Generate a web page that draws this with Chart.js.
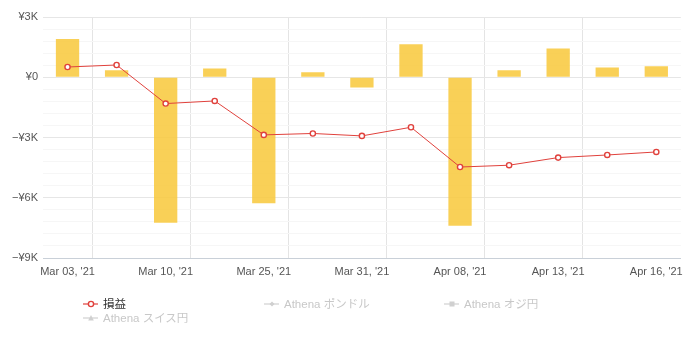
<!DOCTYPE html>
<html><head><meta charset="utf-8">
<script src="https://cdn.jsdelivr.net/npm/chart.js@4/dist/chart.umd.min.js"></script>
<style>
html,body{margin:0;padding:0;background:#fff;}
#wrap{position:relative;width:690px;height:338px;}
#c{position:absolute;left:0;top:0;}
.lg{position:absolute;font:11.5px 'Liberation Sans',Arial,'Noto Sans CJK JP',sans-serif;white-space:nowrap;line-height:14px;}
.lg svg{position:absolute;left:0;top:1px;}
.lg span{position:absolute;left:20px;top:0;}
</style></head>
<body>
<div id="wrap">
<canvas id="c" width="690" height="338"></canvas>
<div class="lg" style="left:83px;top:297px;color:#333"><svg width="16" height="12"><line x1="0" y1="6" x2="15" y2="6" stroke="#e0413c" stroke-width="1.2"/><circle cx="8" cy="6" r="2.6" fill="#fff" stroke="#e0413c" stroke-width="1.4"/></svg><span>損益</span></div>
<div class="lg" style="left:264px;top:297px;color:#c8c8c8"><svg width="16" height="12"><line x1="0" y1="6" x2="15" y2="6" stroke="#d0d0d0" stroke-width="1.2"/><path d="M8 3.5 L10.5 6 L8 8.5 L5.5 6 Z" fill="#d0d0d0"/></svg><span>Athena ポンドル</span></div>
<div class="lg" style="left:444px;top:297px;color:#c8c8c8"><svg width="16" height="12"><line x1="0" y1="6" x2="15" y2="6" stroke="#d0d0d0" stroke-width="1.2"/><rect x="5.5" y="3.5" width="5" height="5" fill="#d0d0d0"/></svg><span>Athena オジ円</span></div>
<div class="lg" style="left:83px;top:311px;color:#c8c8c8"><svg width="16" height="12"><line x1="0" y1="6" x2="15" y2="6" stroke="#d0d0d0" stroke-width="1.2"/><path d="M8 3 L10.8 8.5 L5.2 8.5 Z" fill="#d0d0d0"/></svg><span>Athena スイス円</span></div>
</div>
<script>
const categories = ["Mar 03, '21","Mar 05, '21","Mar 10, '21","Mar 18, '21","Mar 25, '21","Mar 29, '21","Mar 31, '21","Apr 06, '21","Apr 08, '21","Apr 12, '21","Apr 13, '21","Apr 15, '21","Apr 16, '21"];
const dailyPL = [1900, 350, -7240, 430, -6270, 250, -510, 1640, -7390, 350, 1430, 480, 550];
const profitLoss = [510, 610, -1310, -1180, -2870, -2800, -2920, -2490, -4470, -4380, -4000, -3870, -3720];
const yTickLabels = {"3000":"¥3K","0":"¥0","-3000":"−¥3K","-6000":"−¥6K","-9000":"−¥9K"};

const FONT = "'Liberation Sans', Arial, 'Noto Sans CJK JP', sans-serif";
const isMajor = v => Math.round(v) % 3000 === 0;
new Chart(document.getElementById('c'), {
  type: 'bar',
  data: {
    labels: categories,
    datasets: [
      { type: 'line', label: '損益', data: profitLoss, order: 0,
        borderColor: '#e0413c', borderWidth: 1, tension: 0,
        pointRadius: 2.6, pointBorderWidth: 1.4, pointBackgroundColor: '#fff', pointBorderColor: '#e0413c' },
      { type: 'bar', label: 'daily', data: dailyPL, order: 1,
        backgroundColor: 'rgba(248,200,58,0.85)', categoryPercentage: 1, barPercentage: 0.475 }
    ]
  },
  options: {
    responsive: false, animation: false,
    layout: { padding: { left: 0, right: 7, top: 17, bottom: 0 } },
    plugins: { legend: { display: false }, tooltip: { enabled: false } },
    scales: {
      x: {
        offset: true,
        afterFit: s => { s.height = 80; },
        grid: { offset: true, drawTicks: false,
          color: ctx => (ctx.index % 2 === 1 ? '#e4e4e4' : 'rgba(0,0,0,0)') },
        border: { display: true, color: '#c9d0d8' },
        ticks: { autoSkip: false, maxRotation: 0, padding: 7, color: '#555',
          font: { family: FONT, size: 11 },
          callback: function(v, i) { return i % 2 === 0 ? this.getLabelForValue(v) : ''; } }
      },
      y: {
        min: -9000, max: 3000,
        afterFit: s => { s.width = 43; },
        border: { display: false },
        grid: { drawTicks: false,
          color: ctx => (ctx.tick && isMajor(ctx.tick.value) ? '#e6e6e6' : '#f6f6f6') },
        ticks: { stepSize: 600, maxTicksLimit: 100, autoSkip: false, padding: 5, color: '#555',
          font: { family: FONT, size: 11 },
          callback: v => { const k = String(Math.round(v)); return yTickLabels[k] !== undefined ? yTickLabels[k] : ''; } }
      }
    }
  }
});
</script>
</body></html>
